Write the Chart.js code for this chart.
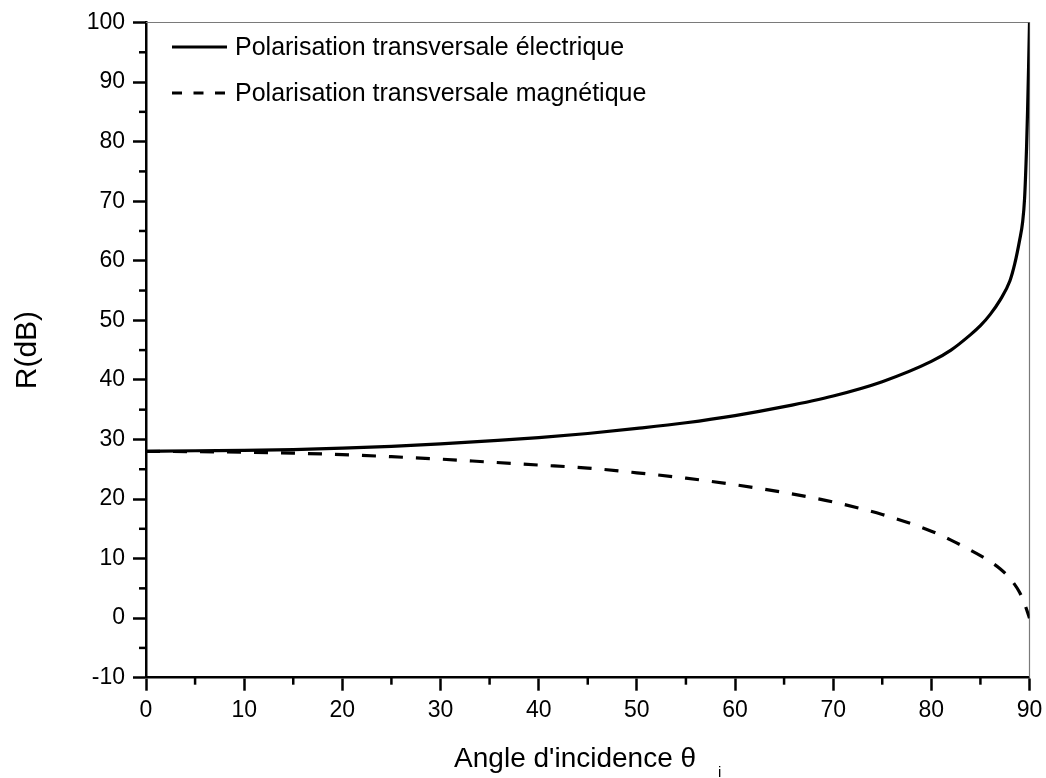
<!DOCTYPE html>
<html>
<head>
<meta charset="utf-8">
<script src="https://cdn.jsdelivr.net/npm/chart.js@4/dist/chart.umd.min.js"></script>
<style>
  html, body { margin: 0; padding: 0; background: #fff; }
  canvas { display: block; }
</style>
</head>
<body>
<canvas id="reflChart" width="1046" height="778"></canvas>
<script>
// angle of incidence (deg) and R (dB)
const teAngles = [0, 5, 10, 15, 20, 25, 30, 35, 40, 45, 50, 55, 60, 65, 70, 75, 80, 82, 84, 85, 86, 87, 88, 88.5, 89, 89.3, 89.5, 89.7, 89.8, 89.9, 90];
const teValues = [28.0, 28.1, 28.15, 28.3, 28.55, 28.85, 29.25, 29.75, 30.3, 31.0, 31.85, 32.8, 34.0, 35.5, 37.3, 39.7, 43.1, 45.0, 47.6, 49.1, 51.0, 53.4, 56.6, 59.5, 63.5, 66.5, 70.5, 79.0, 85.0, 92.0, 100.0];

const tmAngles = [0, 5, 10, 15, 20, 25, 30, 35, 40, 45, 50, 55, 60, 65, 70, 75, 80, 82, 84, 85, 86, 87, 88, 89, 89.5, 90];
const tmValues = [28.0, 27.95, 27.85, 27.7, 27.45, 27.1, 26.7, 26.2, 25.7, 25.2, 24.4, 23.5, 22.4, 21.1, 19.5, 17.4, 14.6, 13.1, 11.4, 10.5, 9.5, 8.3, 6.7, 4.3, 2.4, 0.0];

const seriesLabels = ["Polarisation transversale électrique", "Polarisation transversale magnétique"];
const xTitle = "Angle d'incidence θ";
const xTitleSub = "i";
const yTitle = "R(dB)";

const FONT = "'Liberation Sans', Arial, sans-serif";

function toPoints(xs, ys) {
  return xs.map((x, i) => ({ x: x, y: ys[i] }));
}

// minor ticks, top/right frame, legend and x title with subscript
const decorPlugin = {
  id: "decor",
  beforeDatasetsDraw(chart) {
    const { ctx, chartArea: a } = chart;
    ctx.save();
    ctx.strokeStyle = "#7a7a7a";
    ctx.lineWidth = 1.2;
    ctx.beginPath();
    ctx.moveTo(a.left, a.top);
    ctx.lineTo(a.right, a.top);
    ctx.lineTo(a.right, a.bottom);
    ctx.stroke();
    ctx.restore();
  },
  afterDraw(chart) {
    const { ctx, chartArea: a, scales } = chart;
    ctx.save();
    ctx.strokeStyle = "#000";
    ctx.lineWidth = 2.5;
    // minor ticks
    const xs = scales.x, ys = scales.y;
    for (let v = xs.min + 5; v < xs.max; v += 10) {
      const px = xs.getPixelForValue(v);
      ctx.beginPath();
      ctx.moveTo(px, a.bottom);
      ctx.lineTo(px, a.bottom + 7);
      ctx.stroke();
    }
    for (let v = ys.min + 5; v < ys.max; v += 10) {
      const py = ys.getPixelForValue(v);
      ctx.beginPath();
      ctx.moveTo(a.left, py);
      ctx.lineTo(a.left - 7, py);
      ctx.stroke();
    }

    // legend inside the plot
    ctx.font = "25px " + FONT;
    ctx.textBaseline = "middle";
    ctx.fillStyle = "#000";
    chart.data.datasets.forEach((ds, i) => {
      const y = a.top + 24.5 + i * 46;
      ctx.lineWidth = ds.borderWidth;
      ctx.strokeStyle = ds.borderColor;
      ctx.setLineDash(ds.borderDash && ds.borderDash.length ? [10, 11.5] : []);
      ctx.beginPath();
      ctx.moveTo(172, y);
      ctx.lineTo(227, y);
      ctx.stroke();
      ctx.setLineDash([]);
      ctx.fillText(ds.label, 235, y + 1);
    });

    // x axis title with subscript
    ctx.font = "28px " + FONT;
    const w1 = ctx.measureText(xTitle).width;
    ctx.font = "15px " + FONT;
    const w2 = ctx.measureText(xTitleSub).width;
    const gap = 22;
    const x0 = (a.left + a.right) / 2 - (w1 + gap + w2) / 2;
    ctx.textBaseline = "alphabetic";
    ctx.textAlign = "left";
    ctx.font = "28px " + FONT;
    ctx.fillText(xTitle, x0, 767);
    ctx.font = "15px " + FONT;
    ctx.fillText(xTitleSub, x0 + w1 + gap, 777);
    ctx.restore();
  }
};

new Chart(document.getElementById("reflChart").getContext("2d"), {
  type: "line",
  data: {
    datasets: [
      {
        label: seriesLabels[0],
        data: toPoints(teAngles, teValues),
        borderColor: "#000",
        borderWidth: 3.2,
        pointRadius: 0,
        fill: false,
        cubicInterpolationMode: "monotone",
      },
      {
        label: seriesLabels[1],
        data: toPoints(tmAngles, tmValues),
        borderColor: "#000",
        borderWidth: 3.2,
        borderDash: [14, 13],
        pointRadius: 0,
        fill: false,
        cubicInterpolationMode: "monotone",
      },
    ],
  },
  options: {
    responsive: false,
    animation: false,
    devicePixelRatio: 1,
    layout: { padding: { left: 10, top: 22.5, right: 16.5, bottom: 0 } },
    plugins: { legend: { display: false }, tooltip: { enabled: false } },
    scales: {
      x: {
        type: "linear",
        min: 0,
        max: 90,
        ticks: { stepSize: 10, color: "#000", font: { family: FONT, size: 23 }, padding: 6, maxRotation: 0 },
        grid: { drawOnChartArea: false, tickLength: 13, tickWidth: 2.5, tickColor: "#000" },
        border: { color: "#000", width: 2.5 },
        afterFit: (s) => { s.height = 100.3; s.paddingRight = 0; s.paddingLeft = 0; },
      },
      y: {
        type: "linear",
        min: -10,
        max: 100,
        ticks: { stepSize: 10, color: "#000", font: { family: FONT, size: 23 }, padding: 8 },
        grid: { drawOnChartArea: false, tickLength: 13, tickWidth: 2.5, tickColor: "#000" },
        border: { color: "#000", width: 2.5 },
        title: { display: true, text: yTitle, color: "#000", font: { family: FONT, size: 30 }, padding: 0 },
        afterFit: (s) => { s.width = 136; },
      },
    },
  },
  plugins: [decorPlugin],
});
</script>
</body>
</html>
